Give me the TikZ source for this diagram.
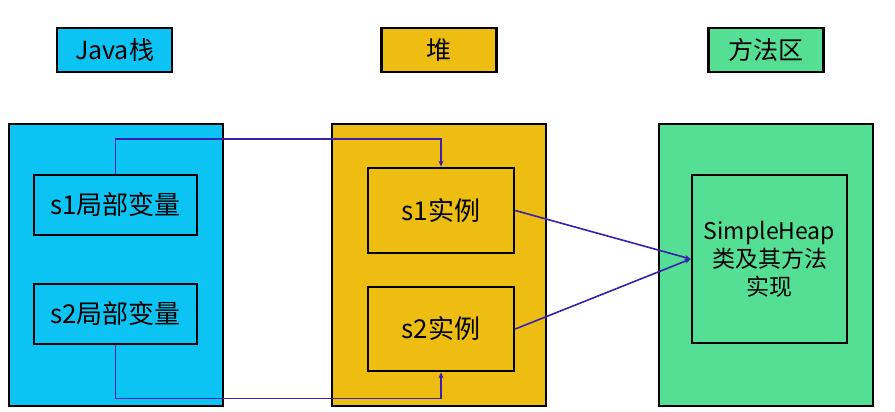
\documentclass[tikz,border=0pt]{standalone}
\usepackage{fontspec}
\setmainfont{Noto Sans CJK SC}
\usetikzlibrary{arrows.meta}

\definecolor{stackblue}{HTML}{0BC4F4}
\definecolor{heapyellow}{HTML}{EDBD12}
\definecolor{methodgreen}{HTML}{55DF95}
\definecolor{refblue}{HTML}{3A1FB0}

\begin{document}
\begin{tikzpicture}[
    x=1pt, y=-1pt,
    every node/.style={draw, line width=2.6pt, inner sep=0pt, align=center, font=\fontsize{26}{30}\selectfont},
    title/.style={minimum width=115pt, minimum height=44pt, font=\fontsize{25}{30}\selectfont},
    area/.style={minimum width=214pt, minimum height=282pt}, % die drei grossen Bereiche
    ref/.style={draw=refblue, line width=1.6pt, -{Stealth[length=6pt, width=5pt]}}
]
\useasboundingbox (0,0) rectangle (895,412);

% Ueberschriften
\node[title, fill=stackblue] (tstack) at (114.5,50) {Java栈};
\node[title, fill=heapyellow] (theap) at (439,50) {堆};
\node[title, fill=methodgreen] (tmethod) at (766,50) {方法区};

% Bereiche
\node[area, fill=stackblue] (stack) at (116,265) {};
\node[area, fill=heapyellow] (heap) at (439,265) {};
\node[area, fill=methodgreen] (method) at (766,265) {};

\node[minimum width=163pt, minimum height=60pt] (s1var) at (115.5,205) {s1局部变量};
\node[minimum width=163pt, minimum height=60pt] (s2var) at (115.5,314) {s2局部变量};
\node[minimum width=146pt, minimum height=85pt] (s1obj) at (441,210.5) {s1实例};
\node[minimum width=146pt, minimum height=84pt] (s2obj) at (441,329) {s2实例};
\node[minimum width=155pt, minimum height=168pt, font=\fontsize{23}{28}\selectfont] (cls) at (769.5,259) {SimpleHeap\\类及其方法\\实现};

% Referenzen
\draw[ref] (s1var.north) -- ++(0,-35) -| (s1obj.north);
\draw[ref] (s2var.south) -- ++(0,53) -| (s2obj.south);
\draw[ref] (s1obj.east) -- (cls.west);
\draw[ref] (s2obj.east) -- (cls.west);

\end{tikzpicture}
\end{document}
